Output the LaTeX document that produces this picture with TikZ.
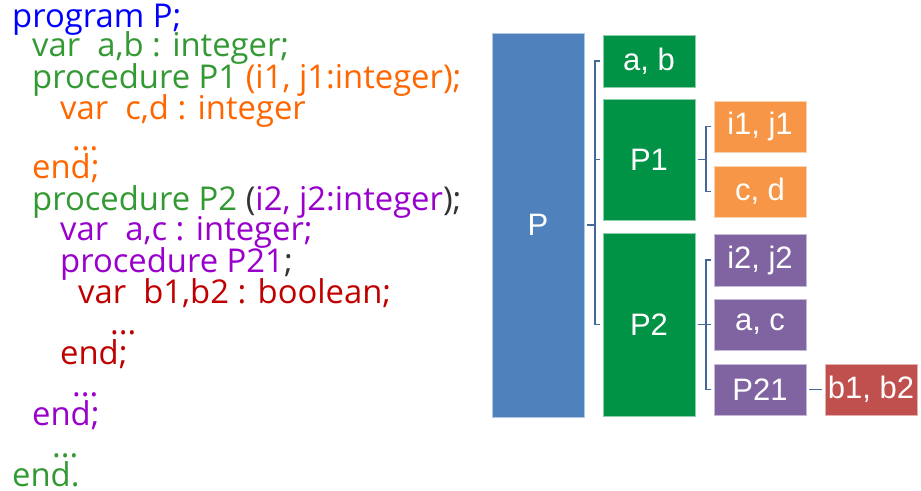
\documentclass[tikz,border=0pt]{standalone}
\usepackage{fontspec}
\setmainfont{Open Sans}
\newfontfamily\boxfont{Liberation Sans}
\usetikzlibrary{calc}

\definecolor{kwblue}{HTML}{0000FF}
\definecolor{kwgreen}{HTML}{339933}
\definecolor{kworange}{HTML}{FF6600}
\definecolor{kwpurple}{HTML}{9900CC}
\definecolor{kwred}{HTML}{C00000}
\definecolor{kwdark}{HTML}{333333}

\definecolor{boxblue}{HTML}{4F81BD}
\definecolor{boxgreen}{HTML}{009245}
\definecolor{boxorange}{HTML}{F79646}
\definecolor{boxpurple}{HTML}{8064A2}
\definecolor{boxred}{HTML}{C0504D}
\definecolor{linkblue}{HTML}{44689A}

\tikzset{
  code/.style={anchor=base west, inner sep=0pt, font=\fontsize{32.8}{32.8}\selectfont},
  dots/.style={code, text height=4pt, text depth=0pt},
  block/.style={draw=#1!45!white, fill=#1, line width=0.7pt, text=white,
    minimum width=92pt, inner sep=0pt, font=\boxfont\fontsize{31}{31}\selectfont},
  link/.style={draw=linkblue, line width=1.7pt},
}

\begin{document}
\begin{tikzpicture}[x=1pt, y=-1pt]
\useasboundingbox (0,0) rectangle (921,490);

% Pascal source listing
\node[code, text=kwblue]   (l1)  at (12,27)  {program P;};
\node[code, text=kwgreen]  (l2)  at (32,56)  {var\ \ a,b : integer;};
\node[code]                (l3)  at (32,88)  {\textcolor{kwgreen}{procedure P1} \textcolor{kworange}{(i1, j1:integer);}};
\node[code, text=kworange] (l4)  at (60,119) {var\ \ c,d : integer};
\node[dots, text=kworange] (l5)  at (72,150) {...};
\node[code, text=kworange] (l6)  at (32,178) {end;};
\node[code]                (l7)  at (32,210) {\textcolor{kwgreen}{procedure P2} \textcolor{kwdark}{(}\textcolor{kwpurple}{i2, j2:integer}\textcolor{kwdark}{);}};
\node[code, text=kwpurple] (l8)  at (60,240) {var\ \ a,c : integer;};
\node[code]                (l9)  at (60,272) {\textcolor{kwpurple}{procedure P21}\textcolor{kwdark}{;}};
\node[code, text=kwred]    (l10) at (78,303) {var\ \ b1,b2 : boolean;};
\node[dots, text=kwred]    (l11) at (110,334) {...};
\node[code, text=kwred]    (l12) at (60,364) {end;};
\node[dots, text=kwpurple] (l13) at (72,396) {...};
\node[code, text=kwpurple] (l14) at (32,425) {end;};
\node[dots, text=kwgreen]  (l15) at (52,457) {...};
\node[code, text=kwgreen, text depth=0pt] (l16) at (12,486) {end.};

% Scope blocks
\node[block=boxblue,   minimum height=384pt] (P)    at (538,225)   {P};
\node[block=boxgreen,  minimum height=52pt]  (ab)   at (649,61)    {a, b};
\node[block=boxgreen,  minimum height=121pt] (P1)   at (649,159.5) {P1};
\node[block=boxgreen,  minimum height=183pt] (P2)   at (649,324.5) {P2};
\node[block=boxorange, minimum height=51pt]  (ij1)  at (760,126.5) {i1, j1};
\node[block=boxorange, minimum height=51pt]  (cd)   at (760,191.5) {c, d};
\node[block=boxpurple, minimum height=52pt]  (ij2)  at (760,260)   {i2, j2};
\node[block=boxpurple, minimum height=51pt]  (ac)   at (760,324.5) {a, c};
\node[block=boxpurple, minimum height=51pt]  (P21)  at (760,389.5) {P21};
\node[block=boxred,    minimum height=51pt]  (b12)  at (871,389.5) {b1, b2};

% Bracket connectors
\coordinate (pb)  at ([xshift=10.5]P.east);
\draw[link] ([xshift=2.5]P.east) -- (pb);
\draw[link] ([xshift=-3]ab.west) -- (ab.west -| pb) -- (P2.west -| pb) -- ([xshift=-3]P2.west);
\draw[link] ([xshift=-3]P1.west) -- (P1.west -| pb);

\coordinate (p1b) at ([xshift=10.5]P1.east);
\draw[link] ([xshift=2.5]P1.east) -- (p1b);
\draw[link] ([xshift=-3]ij1.west) -- (ij1.west -| p1b) -- (cd.west -| p1b) -- ([xshift=-3]cd.west);

\coordinate (p2b) at ([xshift=10.5]P2.east);
\draw[link] ([xshift=2.5]P2.east) -- (p2b);
\draw[link] ([xshift=-3]ij2.west) -- (ij2.west -| p2b) -- (P21.west -| p2b) -- ([xshift=-3]P21.west);
\draw[link] ([xshift=-3]ac.west) -- (ac.west -| p2b);

\draw[link, shorten <=3pt, shorten >=2.5pt] (P21.east) -- (b12.west);
\end{tikzpicture}
\end{document}
